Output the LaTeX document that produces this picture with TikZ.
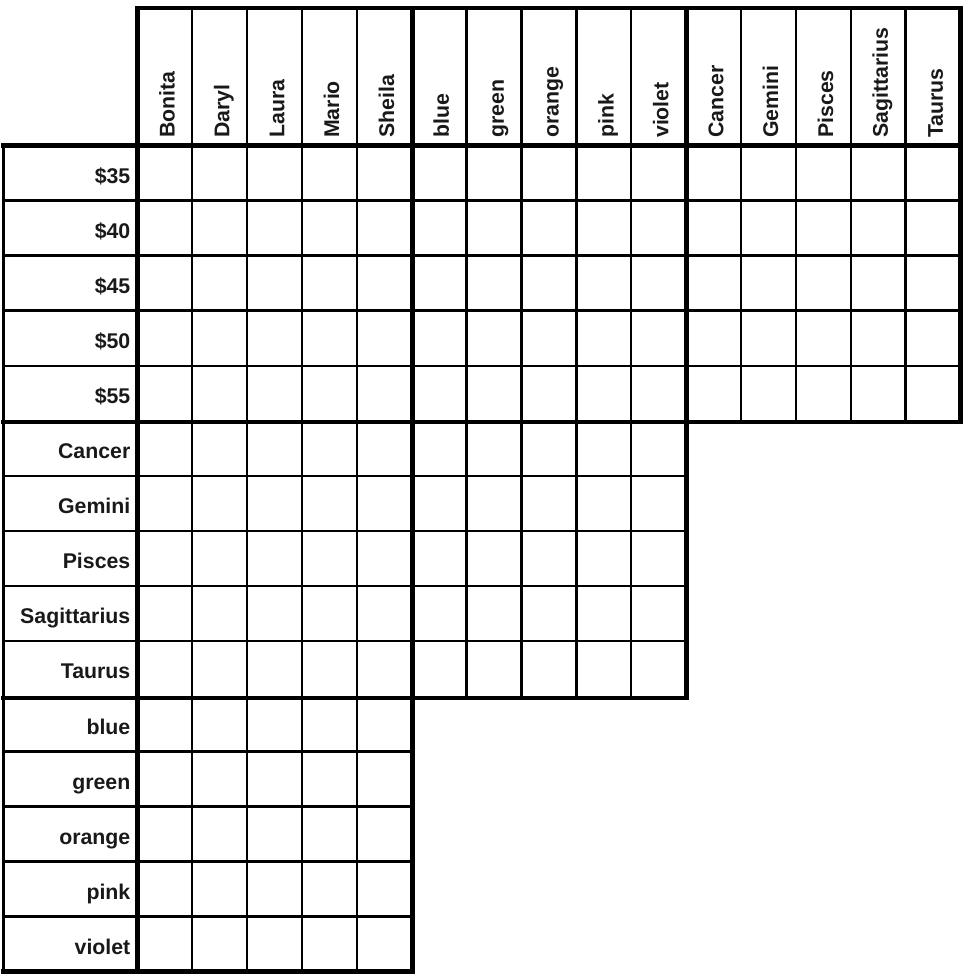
\documentclass[tikz,border=0pt]{standalone}
\usepackage{fontspec}
\setmainfont{Liberation Sans}
\begin{document}
\begin{tikzpicture}[x=1pt,y=-1pt,
  gridthin/.style={line width=2.5pt, draw=black},
  gridthick/.style={line width=4.5pt, draw=black, line cap=rect},
  lbl/.style={font=\bfseries\fontsize{21.3}{25}\selectfont, inner sep=0pt, text=black!90}]
\useasboundingbox (0,0) rectangle (966,974);
\def\cw{54.88}
\def\rh{55.07}
\def\xo{137.3}
\def\yo{145.5}
% thin vertical lines
\foreach \i in {1,...,4} \draw[gridthin] ({\xo+\i*\cw},8) -- ({\xo+\i*\cw},971.5);
\foreach \i in {6,...,9} \draw[gridthin] ({\xo+\i*\cw},8) -- ({\xo+\i*\cw},698);
\foreach \i in {11,...,14} \draw[gridthin] ({\xo+\i*\cw},8) -- ({\xo+\i*\cw},422);
% thin horizontal lines
\foreach \i in {1,...,4} \draw[gridthin] (3,{\yo+\i*\rh}) -- (960.5,{\yo+\i*\rh});
\foreach \i in {6,...,9} \draw[gridthin] (3,{\yo+\i*\rh}) -- (686,{\yo+\i*\rh});
\foreach \i in {11,...,14} \draw[gridthin] (3,{\yo+\i*\rh}) -- (412,{\yo+\i*\rh});
% left border of label column and its top
\draw[line width=3.5pt] (3.3,145) -- (3.3,971.5);
\draw[line width=3pt] (1,145) -- (137,145);
% thick block borders
\draw[gridthick] (137.3,8) -- (960.5,8);
\draw[gridthick] (3,145.5) -- (960.5,145.5);
\draw[gridthick] (3,422) -- (960.5,422);
\draw[gridthick] (3,698) -- (686,698);
\draw[gridthick] (3,971.5) -- (412.3,971.5);
\draw[gridthick] (137.3,8) -- (137.3,971.5);
\draw[gridthick] (412.3,8) -- (412.3,971.5);
\draw[gridthick] (686.5,8) -- (686.5,698);
\draw[gridthick] (960.5,8) -- (960.5,422);
% column labels
\foreach \t [count=\i] in {Bonita,Daryl,Laura,Mario,Sheila,blue,green,orange,pink,violet,Cancer,Gemini,Pisces,Sagittarius,Taurus}
  \node[lbl, rotate=90, anchor=base west] (c\i) at ({\xo+(\i-0.5)*\cw+9.8},138) {\t};
% row labels
\foreach \t [count=\i] in {\$35,\$40,\$45,\$50,\$55,Cancer,Gemini,Pisces,Sagittarius,Taurus,blue,green,orange,pink,violet}
  \node[lbl, anchor=base east] (r\i) at (130.5,{\yo+(\i-0.5)*\rh+10.3}) {\t};
\end{tikzpicture}
\end{document}
